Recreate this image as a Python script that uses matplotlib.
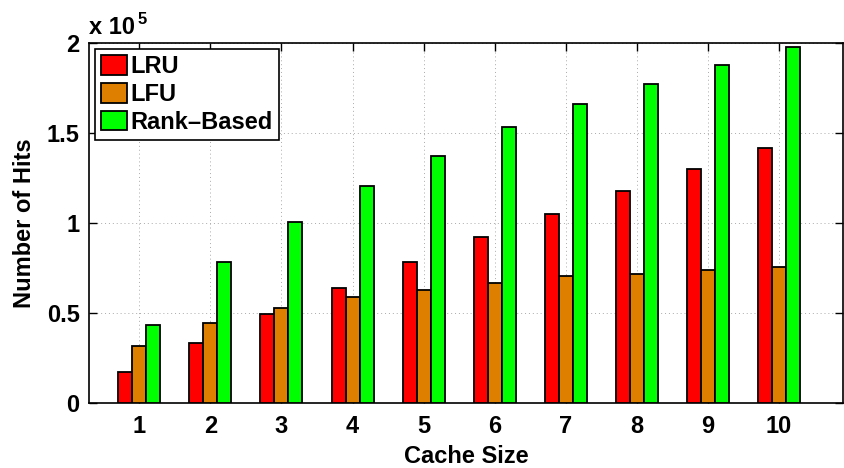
import numpy as np
import matplotlib
matplotlib.use("Agg")
import matplotlib.pyplot as plt

# Cache hit counts for each replacement policy
cache_sizes = [1, 2, 3, 4, 5, 6, 7, 8, 9, 10]
lru_hits = [17000, 33600, 49300, 64100, 78300, 92100, 105100, 117800, 130000, 141500]
lfu_hits = [31400, 44200, 52800, 58900, 63000, 66700, 70400, 71600, 73900, 75500]
rank_hits = [43600, 78100, 100800, 120600, 137200, 153300, 166000, 177100, 187600, 198000]
series_names = ["LRU", "LFU", "Rank\u2013Based"]
series_colors = ["#FF0000", "#DE7F00", "#00FF00"]
ytick_values = [0, 50000, 100000, 150000, 200000]
ytick_labels = ["0", "0.5", "1", "1.5", "2"]

plt.rcParams["font.family"] = ["Liberation Sans", "DejaVu Sans"]
plt.rcParams["font.weight"] = "bold"

fig = plt.figure(figsize=(8.45, 4.68), dpi=100)
ax = fig.add_axes([0.1057, 0.1389, 0.8919, 0.7692])

x = np.array(cache_sizes, dtype=float)
width = 0.197
for i, (vals, name, col) in enumerate(zip([lru_hits, lfu_hits, rank_hits], series_names, series_colors)):
    ax.bar(x + (i - 1) * width, vals, width=width, color=col, edgecolor="black",
           linewidth=1.3, label=name, zorder=3)

ax.set_xlim(0.297, 10.9)
ax.set_ylim(0, 200000)
ax.set_xticks(cache_sizes)
ax.set_xticklabels([str(c) for c in cache_sizes])
ax.set_yticks(ytick_values)
ax.set_yticklabels(ytick_labels)

ax.grid(True, linestyle=(0, (1, 3)), color="#aaaaaa", linewidth=0.7, zorder=0)
ax.tick_params(axis="both", direction="in", top=True, right=True, length=6,
               width=1.0, labelsize=17, pad=7)
ax.tick_params(axis="x", pad=9)
for sp in ax.spines.values():
    sp.set_linewidth(1.2)

ax.set_xlabel("Cache Size", fontsize=17, fontweight="bold", labelpad=5)
ax.set_ylabel("Number of Hits", fontsize=17, fontweight="bold", labelpad=8)

# Exponent marker above the y axis
ax.text(0.0, 1.012, "x 10", transform=ax.transAxes, fontsize=17, fontweight="bold",
        ha="left", va="bottom")
ax.text(0.064, 1.045, "5", transform=ax.transAxes, fontsize=12, fontweight="bold",
        ha="left", va="bottom")

leg = ax.legend(loc="upper left", bbox_to_anchor=(0.0076, 0.9825), fontsize=17,
                frameon=True, fancybox=False, edgecolor="black", framealpha=1,
                handlelength=1.1, handleheight=0.9, handletextpad=0.15,
                labelspacing=0.2, borderpad=0.25, borderaxespad=0.0)
leg.get_frame().set_linewidth(1.2)
for t in leg.get_texts():
    t.set_fontweight("bold")

fig.savefig("out.png", dpi=100)
